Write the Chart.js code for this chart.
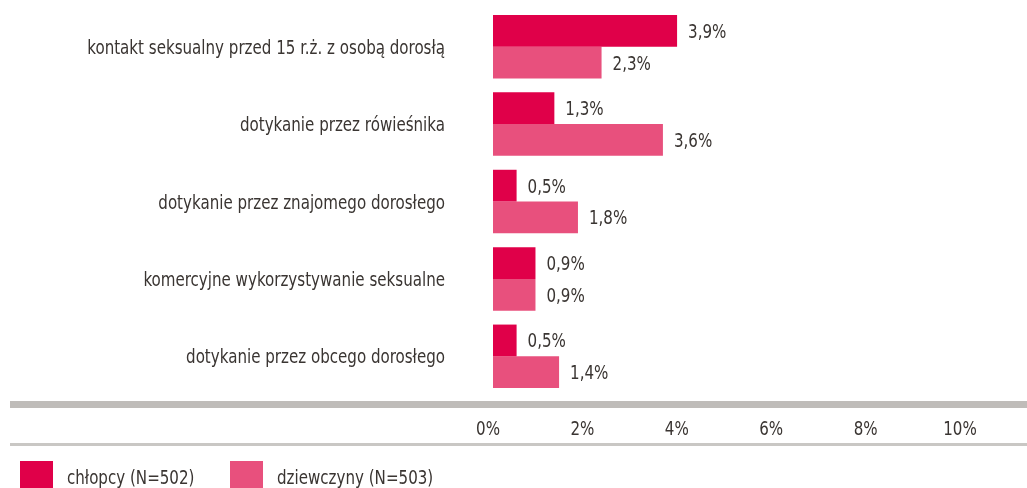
<!DOCTYPE html>
<html>
<head>
<meta charset="utf-8">
<script src="https://cdn.jsdelivr.net/npm/chart.js@4"></script>
<style>
  html, body { margin: 0; padding: 0; background: #fff; }
  #wrap { width: 1027px; height: 488px; }
</style>
</head>
<body>
<div id="wrap"><canvas id="chart"></canvas></div>
<script>
// dane
const categories = [
  'kontakt seksualny przed 15 r.ż. z osobą dorosłą',
  'dotykanie przez rówieśnika',
  'dotykanie przez znajomego dorosłego',
  'komercyjne wykorzystywanie seksualne',
  'dotykanie przez obcego dorosłego'
];
const boys = [3.9, 1.3, 0.5, 0.9, 0.5];
const girls = [2.3, 3.6, 1.8, 0.9, 1.4];
const seriesNames = ['chłopcy (N=502)', 'dziewczyny (N=503)'];
const xTicks = [0, 2, 4, 6, 8, 10];

const FONT = "19.5px 'DejaVu Sans Condensed', 'DejaVu Sans', sans-serif";
const TEXT = '#3a3532';
const SX = 0.86; // zwężenie tekstu (krój wąski)

function say(ctx, txt, x, y, align) {
  ctx.save();
  ctx.translate(x, y);
  ctx.scale(SX, 1);
  ctx.textAlign = align;
  ctx.textBaseline = 'alphabetic';
  ctx.fillText(txt, 0, 0);
  ctx.restore();
}

// linie i wszystkie napisy: kategorie, wartości, oś X, legenda
const texts = {
  id: 'texts',
  afterDraw(chart) {
    const ctx = chart.ctx;
    const xs = chart.scales.x, ys = chart.scales.y;
    ctx.save();
    ctx.font = FONT;

    ctx.fillStyle = '#bfbcb9';
    ctx.fillRect(10, xs.top + 6, chart.width - 10, 7);
    ctx.fillStyle = '#c9c7c4';
    ctx.fillRect(10, xs.bottom, chart.width - 10, 3);
    ctx.fillStyle = TEXT;

    categories.forEach((c, i) => say(ctx, c, ys.right - 48, ys.getPixelForTick(i) + 7, 'right'));

    chart.data.datasets.forEach((ds, i) => {
      chart.getDatasetMeta(i).data.forEach((bar, j) => {
        const txt = ds.data[j].toFixed(1).replace('.', ',') + '%';
        say(ctx, txt, bar.x + 11, bar.y + 7, 'left');
      });
    });

    xTicks.forEach(v => say(ctx, v + '%', xs.getPixelForValue(v) - 5, xs.top + 39.5, 'center'));

    // legenda
    const lx = [20, 230];
    chart.data.datasets.forEach((ds, i) => {
      ctx.fillStyle = ds.backgroundColor;
      ctx.fillRect(lx[i], chart.height - 27, 33, 27);
      ctx.fillStyle = TEXT;
      say(ctx, ds.label, lx[i] + 47, chart.height - 4, 'left');
    });
    ctx.restore();
  }
};

new Chart(document.getElementById('chart'), {
  type: 'bar',
  data: {
    labels: categories,
    datasets: [
      { label: seriesNames[0], data: boys, backgroundColor: '#e00049' },
      { label: seriesNames[1], data: girls, backgroundColor: '#e8507d' }
    ]
  },
  options: {
    indexAxis: 'y',
    responsive: true,
    maintainAspectRatio: false,
    animation: false,
    categoryPercentage: 0.82,
    barPercentage: 1,
    layout: { padding: { top: 8, right: 62, left: 0, bottom: 45 } },
    scales: {
      x: {
        min: 0,
        max: 10,
        afterBuildTicks(s) { s.ticks = xTicks.map(v => ({ value: v })); },
        grid: { display: false, drawTicks: false },
        border: { display: false },
        ticks: { display: false },
        afterFit(s) { s.height = 48; s.paddingLeft = 0; s.paddingRight = 0; }
      },
      y: {
        grid: { display: false, drawTicks: false },
        border: { display: false },
        ticks: { display: false },
        afterFit(s) { s.width = 493; s.paddingTop = 0; s.paddingBottom = 0; }
      }
    },
    plugins: {
      tooltip: { enabled: false },
      legend: { display: false }
    }
  },
  plugins: [texts]
});
</script>
</body>
</html>
